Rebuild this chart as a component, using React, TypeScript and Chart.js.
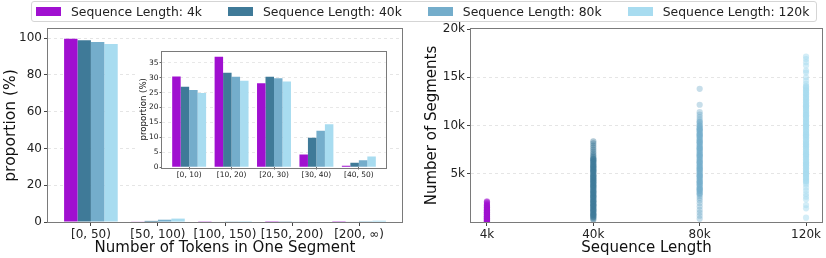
import React, { useEffect, useRef } from 'react';
import { Chart, registerables } from 'chart.js';

Chart.register(...registerables);
Chart.defaults.font.family = '"DejaVu Sans", sans-serif';
Chart.defaults.color = '#222';

// ---------- data ----------
const seriesNames = ['Sequence Length: 4k', 'Sequence Length: 40k', 'Sequence Length: 80k', 'Sequence Length: 120k'];
const seriesColors = ['#a010d0', '#3f7a98', '#74adcb', '#a8dcf0'];
const pointColors = ['rgba(160,16,208,0.42)', 'rgba(63,122,152,0.42)', 'rgba(116,173,203,0.4)', 'rgba(168,220,240,0.5)'];

const tokenBins = ['[0, 50)', '[50, 100)', '[100, 150)', '[150, 200)', '[200, ∞)'];
const prop4k = [99.7, 0.15, 0.08, 0.03, 0.04];
const prop40k = [98.9, 0.6, 0.2, 0.1, 0.25];
const prop80k = [97.9, 1.25, 0.35, 0.15, 0.4];
const prop120k = [96.8, 1.85, 0.45, 0.2, 0.7];
const mainTicks = [0, 20, 40, 60, 80, 100];

const insetBins = ['[0, 10)', '[10, 20)', '[20, 30)', '[30, 40)', '[40, 50)'];
const inset4k = [30.4, 37.0, 28.1, 4.2, 0.45];
const inset40k = [27.0, 31.7, 30.3, 9.8, 1.45];
const inset80k = [25.9, 30.3, 29.8, 12.2, 2.3];
const inset120k = [24.9, 29.0, 28.7, 14.4, 3.5];
const insetTicks = [0, 5, 10, 15, 20, 25, 30, 35];

const seqLabels = ['4k', '40k', '80k', '120k'];
const segTicks = [5000, 10000, 15000, 20000];
const segments4k = [30, 80, 130, 170, 220, 260, 310, 350, 400, 440, 490, 540, 580, 630, 680, 720, 770, 820, 870, 920, 970, 1020, 1080, 1130, 1190, 1250, 1310, 1380, 1450, 1530, 1610, 1700, 1790, 1900, 2010, 2090, 2140, 60, 200, 370, 550, 750, 950, 1150, 100, 250, 420, 600, 800, 1000, 1200, 1350, 1500, 1650, 1800];
const segments40k = [8360, 8150, 7930, 7700, 7480, 7260, 7070, 6880, 6740, 6600, 6470, 6320, 6180, 6050, 5910, 5770, 5640, 5500, 5360, 5230, 5090, 4950, 4820, 4680, 4540, 4410, 4270, 4130, 4000, 3860, 3720, 3590, 3450, 3310, 3180, 3040, 2900, 2770, 2630, 2490, 2360, 2220, 2080, 1950, 1810, 1670, 1540, 1400, 1260, 1130, 990, 850, 720, 590, 460, 340, 230, 6400, 5800, 5300, 4700, 4200, 3700, 3100, 2600, 2100, 1700, 1200, 800, 6550, 6250, 5950, 5650, 5450, 5150, 4850, 4550, 4350, 4050, 3800, 3500, 3250, 2950, 2700, 2400, 2150, 1850, 1600, 1350, 1050, 750, 550];
const segments80k = [13800, 12150, 11380, 11120, 10880, 10640, 10430, 10250, 10080, 9920, 9770, 9620, 9470, 9320, 9170, 9020, 8870, 8720, 8570, 8420, 8270, 8120, 7970, 7820, 7670, 7520, 7370, 7220, 7070, 6920, 6770, 6620, 6470, 6320, 6170, 6020, 5870, 5720, 5570, 5420, 5270, 5120, 4970, 4820, 4670, 4520, 4370, 4220, 4070, 3920, 3770, 3620, 3470, 3320, 3170, 3020, 2870, 2700, 2480, 2250, 1950, 1600, 1250, 950, 650, 330, 9600, 9000, 8300, 7600, 6900, 6200, 5500, 4800, 4100, 3400, 10350, 10000, 9700, 9400, 9100, 8800, 8500, 8200, 7900, 7650, 7350, 7050, 6750, 6450, 6150, 5850, 5650, 5350, 5050, 4750, 4450, 4150, 3850, 3550, 3250, 2950];
const segments120k = [17150, 16880, 16560, 16220, 15700, 15480, 15000, 14650, 14320, 14080, 13900, 13730, 13570, 13400, 13240, 13080, 12910, 12750, 12590, 12420, 12260, 12100, 11930, 11770, 11610, 11440, 11280, 11120, 10950, 10790, 10630, 10460, 10300, 10140, 9970, 9810, 9650, 9480, 9320, 9160, 8990, 8830, 8670, 8500, 8340, 8180, 8010, 7850, 7690, 7520, 7360, 7200, 7030, 6870, 6710, 6540, 6380, 6220, 6050, 5890, 5730, 5560, 5400, 5240, 5070, 4910, 4750, 4580, 4420, 4260, 4100, 3880, 3560, 3230, 2900, 2620, 2350, 1750, 1420, 450, 13000, 12000, 11000, 10000, 9000, 8000, 7000, 6000, 5000, 14000, 13650, 13320, 12680, 12350, 12030, 11700, 11380, 11050, 10720, 10400, 10080, 9750, 9430, 9100, 8780, 8450, 8130, 7800, 7480, 7150, 6830, 6500, 6180, 5850, 5530, 5200, 4880, 4550, 4250];

// ---------- helpers ----------
const SPINE = '#7a7a7a';
const GRID = 'rgba(0,0,0,0.13)';
const TICKC = '#444';

const framePlugin = {
  id: 'frame',
  afterDatasetsDraw(chart: any) {
    const { ctx, chartArea: a } = chart;
    ctx.save();
    ctx.strokeStyle = SPINE;
    ctx.lineWidth = 1;
    ctx.strokeRect(Math.round(a.left) - 0.5, Math.round(a.top) - 0.5, Math.round(a.right - a.left) + 1, Math.round(a.bottom - a.top) + 1);
    ctx.restore();
  },
};

const gridColor = (edgeVals: number[]) => (c: any) =>
  c.tick && edgeVals.includes(c.tick.value) ? 'rgba(0,0,0,0)' : GRID;

function ChartCanvas({ make, left, top, width, height, bg }: any) {
  const ref = useRef<HTMLCanvasElement | null>(null);
  useEffect(() => {
    const chart = new Chart(ref.current as HTMLCanvasElement, make());
    return () => chart.destroy();
  }, []);
  return (
    <canvas
      ref={ref}
      width={width}
      height={height}
      style={{ position: 'absolute', left, top, width, height, background: bg || 'transparent' }}
    />
  );
}

const barSets = (vals: number[][]) =>
  vals.map((v, k) => ({
    label: seriesNames[k],
    data: v.map((y, i) => ({ x: i, y })),
    backgroundColor: seriesColors[k],
    borderWidth: 0,
    categoryPercentage: 0.8,
    barPercentage: 1.0,
  }));

const mainConfig = (): any => ({
  type: 'bar',
  data: { datasets: barSets([prop4k, prop40k, prop80k, prop120k]) },
  options: {
    responsive: false,
    animation: false,
    layout: { padding: { top: 29, right: 8, left: 0, bottom: 0 } },
    plugins: { legend: { display: false }, tooltip: { enabled: false } },
    scales: {
      x: {
        type: 'linear',
        offset: false,
        min: -0.64,
        max: 4.64,
        afterBuildTicks: (s: any) => { s.ticks = tokenBins.map((_, i) => ({ value: i })); },
        ticks: { callback: (v: any) => tokenBins[v], font: { size: 12 }, color: '#222', padding: 2, maxRotation: 0, autoSkip: false },
        grid: { offset: false, drawOnChartArea: false, drawTicks: true, tickLength: 4, tickColor: TICKC, tickWidth: 1 },
        border: { display: false },
        title: { display: true, text: 'Number of Tokens in One Segment', font: { size: 15 }, color: '#111', padding: { top: 0, bottom: 1 } },
        afterFit: (s: any) => { s.height = 36; },
      },
      y: {
        min: 0,
        max: 105,
        afterBuildTicks: (s: any) => { s.ticks = mainTicks.map((v) => ({ value: v })); },
        ticks: { font: { size: 12 }, color: '#222', padding: 2 },
        grid: { color: gridColor([0]), lineWidth: 0.8, drawTicks: true, tickLength: 4, tickColor: TICKC, tickWidth: 1 },
        border: { display: false, dash: [3, 3] },
        title: { display: true, text: 'proportion (%)', font: { size: 15.5 }, color: '#111', padding: { top: 2, bottom: 0 } },
        afterFit: (s: any) => { s.width = 48; },
      },
    },
  },
  plugins: [framePlugin],
});

const insetConfig = (): any => ({
  type: 'bar',
  data: { datasets: barSets([inset4k, inset40k, inset80k, inset120k]) },
  options: {
    responsive: false,
    animation: false,
    layout: { padding: { top: 5, right: 4, left: 0, bottom: 0 } },
    plugins: { legend: { display: false }, tooltip: { enabled: false } },
    scales: {
      x: {
        type: 'linear',
        offset: false,
        min: -0.64,
        max: 4.64,
        afterBuildTicks: (s: any) => { s.ticks = insetBins.map((_, i) => ({ value: i })); },
        ticks: { callback: (v: any) => insetBins[v], font: { size: 7.5 }, color: '#222', padding: 1, maxRotation: 0, autoSkip: false },
        grid: { offset: false, drawOnChartArea: false, drawTicks: true, tickLength: 2.5, tickColor: TICKC, tickWidth: 0.8 },
        border: { display: false },
        afterFit: (s: any) => { s.height = 15; },
      },
      y: {
        min: 0,
        max: 38.8,
        afterBuildTicks: (s: any) => { s.ticks = insetTicks.map((v) => ({ value: v })); },
        ticks: { font: { size: 7.5 }, color: '#222', padding: 1 },
        grid: { color: gridColor([0]), lineWidth: 0.7, drawTicks: true, tickLength: 2.5, tickColor: TICKC, tickWidth: 0.8 },
        border: { display: false, dash: [3, 3] },
        title: { display: true, text: 'proportion (%)', font: { size: 8.6 }, color: '#111', padding: { top: 3, bottom: 0 } },
        afterFit: (s: any) => { s.width = 26; },
      },
    },
  },
  plugins: [framePlugin],
});

const segConfig = (): any => ({
  type: 'scatter',
  data: {
    datasets: [segments4k, segments40k, segments80k, segments120k].map((arr, k) => ({
      label: seriesNames[k],
      data: arr.map((y) => ({ x: k, y })),
      backgroundColor: pointColors[k],
      borderColor: pointColors[k],
      borderWidth: 0,
      pointRadius: 3.1,
    })),
  },
  options: {
    responsive: false,
    animation: false,
    layout: { padding: { top: 29, right: 2, left: 0, bottom: 0 } },
    plugins: { legend: { display: false }, tooltip: { enabled: false } },
    scales: {
      x: {
        type: 'linear',
        offset: false,
        min: -0.15,
        max: 3.15,
        afterBuildTicks: (s: any) => { s.ticks = seqLabels.map((_, i) => ({ value: i })); },
        ticks: { callback: (v: any) => seqLabels[v], font: { size: 12 }, color: '#222', padding: 2, maxRotation: 0, autoSkip: false },
        grid: { offset: false, drawOnChartArea: false, drawTicks: true, tickLength: 4, tickColor: TICKC, tickWidth: 1 },
        border: { display: false },
        title: { display: true, text: 'Sequence Length', font: { size: 15 }, color: '#111', padding: { top: 0, bottom: 1 } },
        afterFit: (s: any) => { s.height = 36; },
      },
      y: {
        min: 0,
        max: 20000,
        afterBuildTicks: (s: any) => { s.ticks = segTicks.map((v) => ({ value: v })); },
        ticks: { callback: (v: any) => v / 1000 + 'k', font: { size: 12 }, color: '#222', padding: 2 },
        grid: { color: gridColor([0, 20000]), lineWidth: 0.8, drawTicks: true, tickLength: 4, tickColor: TICKC, tickWidth: 1 },
        border: { display: false, dash: [3, 3] },
        title: { display: true, text: 'Number of Segments', font: { size: 15 }, color: '#111', padding: { top: 13, bottom: 0 } },
        afterFit: (s: any) => { s.width = 61; },
      },
    },
  },
  plugins: [framePlugin],
});

function Legend() {
  return (
    <div
      style={{
        position: 'absolute', left: 31, top: 1, width: 786, height: 21, boxSizing: 'border-box',
        border: '1px solid #d5d5d5', borderRadius: 3, background: 'rgba(255,255,255,0.8)',
        display: 'flex', alignItems: 'center', paddingLeft: 4,
        fontFamily: '"DejaVu Sans", sans-serif', fontSize: 12.4, color: '#222', whiteSpace: 'nowrap',
      }}
    >
      {seriesNames.map((n, k) => (
        <div key={n} style={{ display: 'flex', alignItems: 'center', marginRight: 26 }}>
          <span style={{ display: 'inline-block', width: 25, height: 8.5, background: seriesColors[k], marginRight: 10 }} />
          <span>{n}</span>
        </div>
      ))}
    </div>
  );
}

export default function App() {
  return (
    <div style={{ position: 'absolute', left: 0, top: 0, width: 826, height: 258, background: '#fff', overflow: 'hidden' }}>
      <ChartCanvas make={mainConfig} left={0} top={0} width={410} height={258} />
      <ChartCanvas make={insetConfig} left={136} top={46} width={254} height={136} bg="#fff" />
      <ChartCanvas make={segConfig} left={410} top={0} width={416} height={258} />
      <Legend />
    </div>
  );
}
